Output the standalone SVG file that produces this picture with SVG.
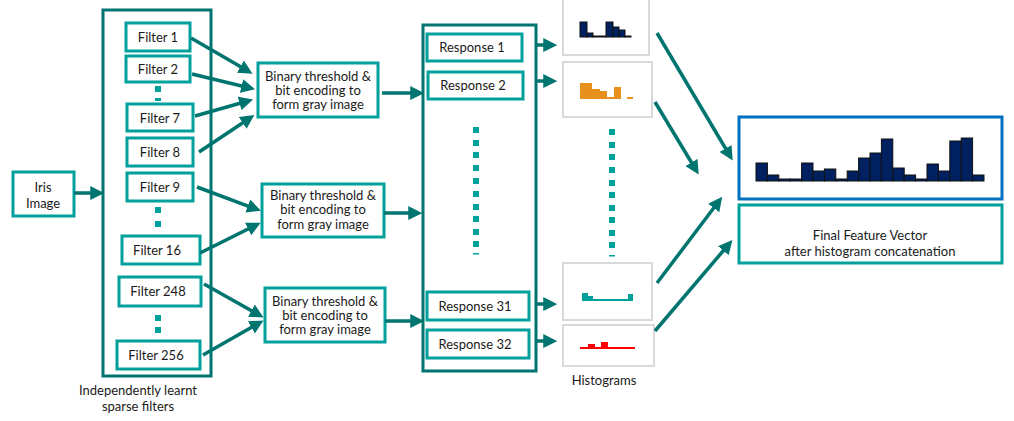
<svg xmlns="http://www.w3.org/2000/svg" width="1014" height="421" viewBox="0 0 1014 421">
<defs>
<marker id="ah" markerWidth="4" markerHeight="4" refX="2.5" refY="2" orient="auto" markerUnits="strokeWidth"><path d="M0,0 L4,2 L0,4 z" fill="#007570"/></marker>
<style>
text{font-family:Lato,"Open Sans","Liberation Sans",sans-serif;font-size:13px;fill:#1a1a1a;text-anchor:middle}
.lt{fill:#fff;stroke:#00a19b;stroke-width:3}
.dk{fill:#fff;stroke:#007570;stroke-width:3}
.hb{fill:#fff;stroke:#d9d9d9;stroke-width:2}
.ar{stroke:#007570;stroke-width:3.5;fill:none;marker-end:url(#ah)}
.dot{fill:#00a19b}
.nv{fill:#002060;stroke:#111;stroke-width:1}
</style>
</defs>
<rect width="1014" height="421" fill="#fff"/>

<g id="iris"><rect class="lt" x="13" y="172" width="61" height="44"/><text x="43" y="192">Iris</text><text x="43" y="208">Image</text></g>

<g id="filterbank"><rect class="dk" x="103" y="10" width="108" height="366"/>
<text x="138" y="395">Independently learnt</text><text x="138" y="411">sparse filters</text></g>
<g id="f1"><rect class="lt" x="126" y="23" width="64" height="28"/><text x="158" y="42">Filter 1</text></g>
<g id="f2"><rect class="lt" x="126" y="56" width="64" height="26"/><text x="158" y="74">Filter 2</text></g>
<g id="f7"><rect class="lt" x="127" y="104" width="66" height="27"/><text x="160" y="123">Filter 7</text></g>
<g id="f8"><rect class="lt" x="127" y="138" width="66" height="28"/><text x="160" y="157">Filter 8</text></g>
<g id="f9"><rect class="lt" x="127" y="173" width="66" height="28"/><text x="160" y="192">Filter 9</text></g>
<g id="f16"><rect class="lt" x="122" y="236" width="78" height="28"/><text x="157" y="255">Filter 16</text></g>
<g id="f248"><rect class="lt" x="119" y="277" width="82" height="29"/><text x="158" y="296">Filter 248</text></g>
<g id="f256"><rect class="lt" x="117" y="341" width="83" height="28"/><text x="156" y="360">Filter 256</text></g>
<g id="fdots" class="dot"><rect x="155" y="86" width="6" height="6"/><rect x="155" y="98" width="6" height="3"/>
<rect x="155" y="207" width="6" height="6"/><rect x="155" y="221" width="6" height="6"/>
<rect x="155" y="315" width="6" height="6"/><rect x="155" y="327" width="6" height="6"/></g>

<g id="b1"><rect class="lt" x="258" y="63" width="120" height="54"/><text x="318" y="81">Binary threshold &amp;</text><text x="318" y="95">bit encoding to</text><text x="318" y="109">form gray image</text></g>
<g id="b2"><rect class="lt" x="262" y="184" width="122" height="53"/><text x="323" y="200">Binary threshold &amp;</text><text x="323" y="214">bit encoding to</text><text x="323" y="229">form gray image</text></g>
<g id="b3"><rect class="lt" x="265" y="288" width="120" height="54"/><text x="325" y="306">Binary threshold &amp;</text><text x="325" y="320">bit encoding to</text><text x="325" y="334">form gray image</text></g>

<g id="responses"><rect class="dk" x="423" y="25" width="113" height="346"/></g>
<g id="r1"><rect class="lt" x="427" y="34" width="95" height="27"/><text x="472" y="52">Response 1</text></g>
<g id="r2"><rect class="lt" x="428" y="72" width="95" height="27"/><text x="473" y="90">Response 2</text></g>
<g id="r31"><rect class="lt" x="427" y="292" width="102" height="28"/><text x="475" y="311">Response 31</text></g>
<g id="r32"><rect class="lt" x="427" y="330" width="102" height="28"/><text x="475" y="349">Response 32</text></g>
<g id="rdots" class="dot">
<rect x="473" y="127" width="6" height="6"/><rect x="473" y="140" width="6" height="6"/><rect x="473" y="152" width="6" height="6"/><rect x="473" y="165" width="6" height="6"/><rect x="473" y="178" width="6" height="6"/><rect x="473" y="191" width="6" height="6"/><rect x="473" y="204" width="6" height="6"/><rect x="473" y="216" width="6" height="6"/><rect x="473" y="229" width="6" height="6"/><rect x="473" y="241" width="6" height="6"/><rect x="473" y="253" width="6" height="1.5"/></g>

<g id="h1"><rect class="hb" x="563" y="-2" width="86" height="57"/>
<g class="nv"><rect x="580" y="22" width="7" height="15"/><rect x="587" y="33" width="6" height="4"/><rect x="593" y="36" width="13" height="1"/><rect x="606" y="22" width="7" height="15"/><rect x="613" y="27" width="6" height="10"/><rect x="619" y="30" width="6" height="7"/><rect x="625" y="36" width="6" height="1"/></g></g>
<g id="h2"><rect class="hb" x="563" y="62" width="89" height="55"/>
<g fill="#e8901e"><rect x="580" y="83" width="12" height="16"/><rect x="592" y="89" width="8" height="10"/><rect x="600" y="91" width="7" height="8"/><rect x="607" y="97" width="7" height="2"/><rect x="614" y="87" width="7" height="12"/><rect x="627" y="97" width="6" height="2"/></g></g>
<g id="hdots" class="dot">
<rect x="609" y="129" width="6" height="6"/><rect x="609" y="142" width="6" height="6"/><rect x="609" y="154" width="6" height="6"/><rect x="609" y="167" width="6" height="6"/><rect x="609" y="180" width="6" height="6"/><rect x="609" y="192" width="6" height="6"/><rect x="609" y="205" width="6" height="6"/><rect x="609" y="217" width="6" height="6"/><rect x="609" y="230" width="6" height="6"/><rect x="609" y="242" width="6" height="6"/><rect x="609" y="255" width="6" height="1.5"/></g>
<g id="h3"><rect class="hb" x="563" y="263" width="89" height="57"/>
<g fill="#00a19b"><rect x="582" y="293" width="6" height="8"/><rect x="588" y="296" width="5" height="5"/><rect x="593" y="299" width="35" height="2"/><rect x="628" y="294" width="5" height="7"/></g></g>
<g id="h4"><rect class="hb" x="563" y="325" width="91" height="41"/>
<g fill="#ff0000"><rect x="580" y="347" width="55" height="2"/><rect x="588" y="344" width="7" height="4"/><rect x="601" y="342" width="7" height="6"/></g>
<text x="604" y="385">Histograms</text></g>

<g id="final"><rect x="739" y="117" width="263" height="82" fill="#fff" stroke="#0070c0" stroke-width="3"/>
<g class="nv">
<rect x="756" y="163" width="11.4" height="18"/><rect x="767.4" y="175" width="11.4" height="6"/><rect x="778.8" y="179" width="11.4" height="2"/><rect x="790.2" y="179" width="11.4" height="2"/><rect x="801.6" y="163" width="11.4" height="18"/><rect x="813" y="171" width="11.4" height="10"/><rect x="824.4" y="169" width="11.4" height="12"/><rect x="835.8" y="179" width="11.4" height="2"/><rect x="847.2" y="171" width="11.4" height="10"/><rect x="858.6" y="158" width="11.4" height="23"/><rect x="870" y="153" width="11.4" height="28"/><rect x="881.4" y="139" width="11.4" height="42"/><rect x="892.8" y="168" width="11.4" height="13"/><rect x="904.2" y="175" width="11.4" height="6"/><rect x="915.6" y="179" width="11.4" height="2"/><rect x="927" y="164" width="11.4" height="17"/><rect x="938.4" y="171" width="11.4" height="10"/><rect x="949.8" y="141" width="11.4" height="40"/><rect x="961.2" y="138" width="11.4" height="43"/><rect x="972.6" y="175" width="11.4" height="6"/></g></g>
<g id="finallabel"><rect class="lt" x="739" y="205" width="263" height="58"/><text x="870" y="240">Final Feature Vector</text><text x="870" y="256">after histogram concatenation</text></g>

<g id="connectors">
<line class="ar" x1="74" y1="193" x2="99" y2="193"/>
<line class="ar" x1="191" y1="38" x2="248" y2="71"/>
<line class="ar" x1="192" y1="74" x2="250" y2="88"/>
<line class="ar" x1="195" y1="116" x2="248" y2="101"/>
<line class="ar" x1="199" y1="152" x2="250" y2="118"/>
<line class="ar" x1="197" y1="187" x2="256" y2="209"/>
<line class="ar" x1="200" y1="253" x2="256" y2="225"/>
<line class="ar" x1="204" y1="284" x2="259" y2="315"/>
<line class="ar" x1="203" y1="355" x2="259" y2="323"/>
<line class="ar" x1="382" y1="93" x2="419" y2="93"/>
<line class="ar" x1="384" y1="213" x2="417" y2="213"/>
<line class="ar" x1="385" y1="321" x2="419" y2="321"/>
<line class="ar" x1="536" y1="45" x2="552" y2="45"/>
<line class="ar" x1="536" y1="81" x2="552" y2="81"/>
<line class="ar" x1="536" y1="304" x2="552" y2="304"/>
<line class="ar" x1="536" y1="341" x2="552" y2="341"/>
<line class="ar" x1="657" y1="33" x2="730" y2="156"/>
<line class="ar" x1="655" y1="102" x2="696" y2="170"/>
<line class="ar" x1="657" y1="283" x2="719" y2="201"/>
<line class="ar" x1="655" y1="331" x2="729" y2="244"/>
</g>
</svg>
